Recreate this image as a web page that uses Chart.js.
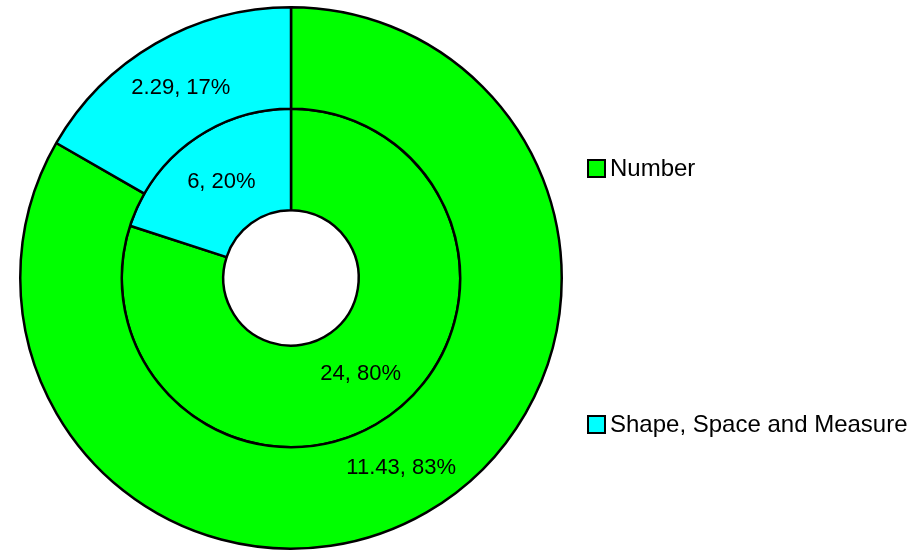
<!DOCTYPE html>
<html>
<head>
<meta charset="utf-8">
<script src="https://cdn.jsdelivr.net/npm/chart.js@4"></script>
<style>
  html, body { margin: 0; padding: 0; background: #fff; }
  #wrap { position: relative; width: 918px; height: 552px; }
  canvas { position: absolute; left: 0; top: 0; }
  .leg { position: absolute; left: 587px; display: flex; align-items: center; height: 24px;
         font-family: "Liberation Sans", Arial, sans-serif; font-size: 24px; color: #000; white-space: nowrap; }
  .sw { width: 15px; height: 15px; border: 2px solid #000; margin-right: 4px; }
</style>
</head>
<body>
<div id="wrap">
  <canvas id="c" width="918" height="552"></canvas>
  <div class="leg" id="leg0" style="top:156px"><div class="sw" style="background:#00FF00"></div><span>Number</span></div>
  <div class="leg" id="leg1" style="top:412px"><div class="sw" style="background:#00FFFF"></div><span>Shape, Space and Measure</span></div>
</div>
<script>
const categories = ["Number", "Shape, Space and Measure"];
const outerValues = [11.43, 2.29];
const innerValues = [24, 6];
const colors = ["#00FF00", "#00FFFF"];

const labelPlugin = {
  id: "arcLabels",
  afterDatasetsDraw(chart) {
    const ctx = chart.ctx;
    ctx.save();
    ctx.font = '22px "Liberation Sans", Arial, sans-serif';
    ctx.fillStyle = "#000";
    ctx.textAlign = "center";
    ctx.textBaseline = "middle";
    chart.data.datasets.forEach((ds, di) => {
      const meta = chart.getDatasetMeta(di);
      const total = ds.data.reduce((a, b) => a + b, 0);
      meta.data.forEach((arc, i) => {
        const p = arc.tooltipPosition();
        const pct = Math.round(ds.data[i] / total * 100);
        ctx.fillText(ds.data[i] + ", " + pct + "%", p.x, p.y);
      });
    });
    ctx.restore();
  }
};

new Chart(document.getElementById("c"), {
  type: "doughnut",
  data: {
    labels: categories,
    datasets: [
      { data: outerValues, backgroundColor: colors, borderColor: "#000", borderWidth: 2.5, hoverOffset: 0, borderAlign: "center" },
      { data: innerValues, backgroundColor: colors, borderColor: "#000", borderWidth: 2.5, hoverOffset: 0, borderAlign: "center" }
    ]
  },
  options: {
    responsive: false,
    animation: false,
    cutout: "25%",
    layout: { padding: { left: 19, right: 355, top: 6, bottom: 2 } },
    plugins: { legend: { display: false }, tooltip: { enabled: false } },
    events: []
  },
  plugins: [labelPlugin]
});
</script>
</body>
</html>
